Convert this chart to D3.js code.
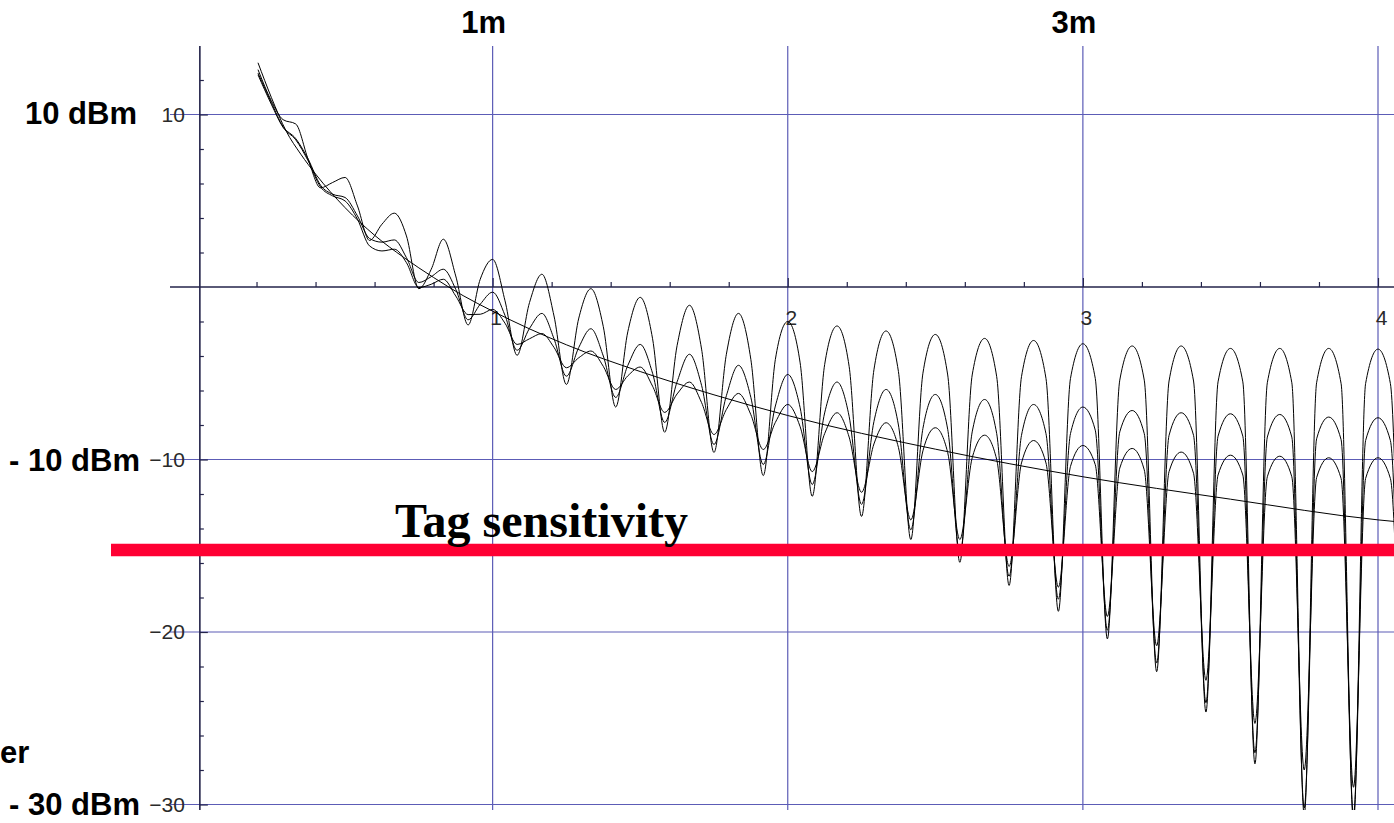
<!DOCTYPE html>
<html>
<head>
<meta charset="utf-8">
<script src="https://cdn.jsdelivr.net/npm/d3@7"></script>
<style>
  body { margin: 0; background: #fff; }
  svg { display: block; }
</style>
</head>
<body>
<div id="chart"></div>
<script>
// Sample positions (m) shared by the three interference curves: peaks, flanks, nulls
const distanceX = [0.205, 0.25, 0.29, 0.333, 0.375, 0.417, 0.458, 0.5, 0.542, 0.583,
  0.625, 0.667, 0.708, 0.75, 0.792, 0.833, 0.875, 0.917, 0.958, 1.0,
  1.042, 1.083, 1.125, 1.167, 1.208, 1.25, 1.292, 1.333, 1.375, 1.417,
  1.458, 1.5, 1.542, 1.583, 1.625, 1.667, 1.708, 1.75, 1.792, 1.833,
  1.875, 1.917, 1.958, 2.0, 2.042, 2.083, 2.125, 2.167, 2.208, 2.25,
  2.292, 2.333, 2.375, 2.417, 2.458, 2.5, 2.542, 2.583, 2.625, 2.667,
  2.708, 2.75, 2.792, 2.833, 2.875, 2.917, 2.958, 3.0, 3.042, 3.083,
  3.125, 3.167, 3.208, 3.25, 3.292, 3.333, 3.375, 3.417, 3.458, 3.5,
  3.542, 3.583, 3.625, 3.667, 3.708, 3.75, 3.792, 3.833, 3.875, 3.917,
  3.958, 4.0, 4.042, 4.083];

// Received power (dBm), strongest reflection
const powerHigh = [12.6, 10.8, 9.7, 9.45, 7.4, 5.75, 6.06, 6.35, 4.7, 2.7,
  3.64, 4.28, 2.96, -0.1, 1.03, 2.77, 0.64, -2.2, 0.45, 1.6,
  -0.8, -3.96, -0.9, 0.74, -1.68, -5.65, -1.8, -0.1, -2.3, -6.96,
  -2.6, -0.6, -3.0, -8.42, -3.4, -1.06, -3.6, -9.59, -3.9, -1.53,
  -4.2, -10.93, -4.2, -2.0, -4.4, -12.13, -4.5, -2.26, -4.6, -13.3,
  -4.8, -2.55, -4.9, -14.64, -5.0, -2.75, -5.1, -15.96, -5.1, -2.98,
  -5.2, -17.3, -5.2, -3.1, -5.3, -18.8, -5.3, -3.29, -5.3, -20.4,
  -5.4, -3.42, -5.4, -22.3, -5.45, -3.42, -5.45, -24.64, -5.5, -3.56,
  -5.5, -27.64, -5.55, -3.56, -5.55, -30.6, -5.55, -3.56, -5.6, -31.0,
  -5.6, -3.6, -5.6, -31.0];

// Received power (dBm), medium reflection
const powerMid = [12.4, 10.7, 9.3, 8.6, 7.41, 5.9, 5.38, 5.19, 4.12, 2.81,
  2.6, 2.73, 1.7, 0.26, 0.6, 1.03, -0.13, -1.9, -1.0, -0.3,
  -1.65, -3.67, -2.4, -1.53, -3.0, -5.17, -3.5, -2.42, -4.0, -6.4,
  -4.55, -3.33, -5.0, -7.85, -5.5, -3.9, -5.7, -9.13, -6.3, -4.54,
  -6.4, -10.29, -6.9, -5.07, -7.0, -11.45, -7.3, -5.51, -7.5, -12.6,
  -7.8, -5.94, -8.0, -14.07, -8.2, -6.23, -8.25, -15.4, -8.4, -6.52,
  -8.5, -16.77, -8.6, -6.81, -8.5, -18.1, -8.5, -6.96, -8.3, -19.9,
  -8.4, -7.16, -8.5, -21.8, -8.6, -7.29, -8.6, -24.1, -8.65, -7.35,
  -8.65, -27.0, -8.7, -7.39, -8.7, -30.2, -8.8, -7.54, -8.85, -30.6,
  -8.9, -7.58, -8.9, -30.6];

// Received power (dBm), weakest reflection
const powerLow = [12.3, 10.6, 9.25, 8.53, 7.31, 5.8, 5.28, 4.99, 3.93, 2.38,
  2.09, 2.19, 1.41, -0.03, 0.16, 0.45, -0.52, -1.6, -1.58, -1.3,
  -2.1, -3.33, -3.0, -2.7, -3.5, -4.68, -4.1, -3.71, -4.6, -5.94,
  -5.15, -4.64, -5.75, -7.27, -6.2, -5.51, -6.7, -8.55, -7.1, -6.17,
  -7.4, -9.42, -7.85, -6.81, -8.1, -10.7, -8.5, -7.29, -8.7, -11.9,
  -9.1, -7.87, -9.3, -13.5, -9.5, -8.16, -9.6, -14.64, -9.9, -8.59,
  -10.0, -16.2, -10.2, -8.9, -10.2, -17.4, -10.4, -9.19, -10.3, -19.1,
  -10.5, -9.36, -10.6, -20.8, -10.7, -9.57, -10.8, -22.8, -10.9, -9.75,
  -10.9, -25.3, -11.0, -9.81, -11.0, -28.0, -11.05, -9.9, -11.1, -29.0,
  -11.1, -9.9, -11.1, -29.0];

// Free-space curve (no reflection)
const freeSpaceX = [0.205, 0.25, 0.3, 0.35, 0.4, 0.5, 0.6, 0.7, 0.8, 0.9,
  1.0, 1.25, 1.5, 1.75, 2.0, 2.5, 3.0, 3.5, 4.0, 4.06];
const freeSpace = [13.0, 11.0, 9.05, 7.7, 6.55, 4.6, 3.0, 1.7, 0.55, -0.5,
  -1.4, -3.35, -4.9, -6.25, -7.45, -9.4, -11.0, -12.3, -13.5, -13.6];

const tagSensitivity = -15.25;

const xGridValues = [1, 2, 3, 4];
const xTickLabels = ['1', '2', '3', '4'];
const yGridValues = [10, -10, -20, -30];
const yTickLabels = ['10', '\u221210', '\u221220', '\u221230'];
const yMinorValues = [12, 8, 6, 4, 2, -2, -4, -6, -8, -12, -14, -16, -18, -22, -24, -26, -28];
const xMinorValues = [0.2, 0.4, 0.6, 0.8, 1.2, 1.4, 1.6, 1.8, 2.2, 2.4, 2.6, 2.8, 3.2, 3.4, 3.6, 3.8];

const distanceLabels = [{ x: 1, text: '1m' }, { x: 3, text: '3m' }];

function renderChart() {
    const width = 1394, height = 823;
    const plot = { left: 170, right: 1394, top: 46, bottom: 810 };

    const svg = d3.select('#chart').append('svg')
        .attr('width', width)
        .attr('height', height);

    const xScale = d3.scaleLinear().domain([0, 4]).range([197.5, 1378]);
    const yScale = d3.scaleLinear().domain([-30, 10]).range([804.5, 114.5]);

    const gridColor = '#5c5cb6';
    const axisColor = '#23234a';
    const originX = xScale(0.008);
    const originY = yScale(0);

    // Grid lines
    svg.append('g').selectAll('line')
        .data(xGridValues)
        .enter().append('line')
        .attr('x1', d => xScale(d)).attr('x2', d => xScale(d))
        .attr('y1', plot.top).attr('y2', plot.bottom)
        .attr('stroke', gridColor).attr('stroke-width', 1.2);

    svg.append('g').selectAll('line')
        .data(yGridValues)
        .enter().append('line')
        .attr('x1', plot.left).attr('x2', plot.right)
        .attr('y1', d => yScale(d)).attr('y2', d => yScale(d))
        .attr('stroke', gridColor).attr('stroke-width', 1.2);

    // X axis (ticks point up, labels below)
    const xAxis = svg.append('g')
        .attr('transform', `translate(0,${originY})`)
        .call(d3.axisBottom(xScale)
            .tickValues(xGridValues)
            .tickFormat((d, i) => xTickLabels[i])
            .tickSizeInner(-9).tickSizeOuter(0).tickPadding(23));
    xAxis.select('.domain').remove();
    xAxis.selectAll('text').attr('dx', 3);

    const xMinor = svg.append('g')
        .attr('transform', `translate(0,${originY})`)
        .call(d3.axisBottom(xScale).tickValues(xMinorValues).tickFormat('').tickSizeInner(-5).tickSizeOuter(0));
    xMinor.select('.domain').remove();

    // Y axis (ticks point right, labels left)
    const yAxis = svg.append('g')
        .attr('transform', `translate(${originX},0)`)
        .call(d3.axisLeft(yScale)
            .tickValues(yGridValues)
            .tickFormat((d, i) => yTickLabels[i])
            .tickSizeInner(-8).tickSizeOuter(0).tickPadding(15));
    yAxis.select('.domain').remove();

    const yMinor = svg.append('g')
        .attr('transform', `translate(${originX},0)`)
        .call(d3.axisLeft(yScale).tickValues(yMinorValues).tickFormat('').tickSizeInner(-4).tickSizeOuter(0));
    yMinor.select('.domain').remove();

    svg.selectAll('.tick line').attr('stroke', axisColor).attr('stroke-width', 1.2);
    svg.selectAll('.tick text')
        .style('font-family', '"Liberation Sans", Arial, sans-serif')
        .style('font-size', '21px')
        .attr('fill', '#2a2a2a');

    svg.append('line')
        .attr('x1', plot.left).attr('x2', plot.right)
        .attr('y1', originY).attr('y2', originY)
        .attr('stroke', axisColor).attr('stroke-width', 1.6);
    svg.append('line')
        .attr('x1', originX).attr('x2', originX)
        .attr('y1', plot.top).attr('y2', plot.bottom)
        .attr('stroke', axisColor).attr('stroke-width', 1.6);

    // Clip curves to the plot range
    svg.append('clipPath').attr('id', 'plot-clip')
        .append('rect')
        .attr('x', plot.left).attr('y', plot.top)
        .attr('width', plot.right - plot.left).attr('height', plot.bottom - plot.top);

    const curves = svg.append('g').attr('clip-path', 'url(#plot-clip)');

    const line = d3.line()
        .defined(d => d[1] != null)
        .x(d => xScale(d[0]))
        .y(d => yScale(d[1]))
        .curve(d3.curveMonotoneX);

    [powerHigh, powerMid, powerLow].forEach(series => {
        curves.append('path')
            .datum(distanceX.map((x, i) => [x, series[i]]))
            .attr('d', line)
            .attr('fill', 'none')
            .attr('stroke', '#000')
            .attr('stroke-width', 1);
    });

    curves.append('path')
        .datum(freeSpaceX.map((x, i) => [x, freeSpace[i]]))
        .attr('d', line)
        .attr('fill', 'none')
        .attr('stroke', '#000')
        .attr('stroke-width', 1);

    // Tag sensitivity threshold
    svg.append('line')
        .attr('x1', 111).attr('x2', width)
        .attr('y1', yScale(tagSensitivity)).attr('y2', yScale(tagSensitivity))
        .attr('stroke', '#ff0033')
        .attr('stroke-width', 12.5);

    svg.append('text')
        .attr('x', 395)
        .attr('y', yScale(tagSensitivity) - 13)
        .style('font-family', '"Liberation Serif", "Times New Roman", serif')
        .style('font-weight', 'bold')
        .style('font-size', '48px')
        .text('Tag sensitivity');

    // Annotations
    const bold = sel => sel
        .style('font-family', '"Liberation Sans", Arial, sans-serif')
        .style('font-weight', 'bold')
        .style('font-size', '31px')
        .attr('fill', '#000');

    svg.selectAll('.dist-label')
        .data(distanceLabels)
        .enter().append('text')
        .attr('class', 'dist-label')
        .attr('x', d => xScale(d.x) - 9)
        .attr('y', 33)
        .attr('text-anchor', 'middle')
        .call(bold)
        .text(d => d.text);

    svg.append('text').attr('x', 137).attr('y', yScale(10) + 9)
        .attr('text-anchor', 'end').call(bold).text('10 dBm');
    svg.append('text').attr('x', 140).attr('y', yScale(-10) + 11)
        .attr('text-anchor', 'end').call(bold).text('- 10 dBm');
    svg.append('text').attr('x', 140).attr('y', 815)
        .attr('text-anchor', 'end').call(bold).text('- 30 dBm');
    svg.append('text').attr('x', 0).attr('y', 763)
        .call(bold).text('er');
}

window.onload = renderChart;
</script>
</body>
</html>
